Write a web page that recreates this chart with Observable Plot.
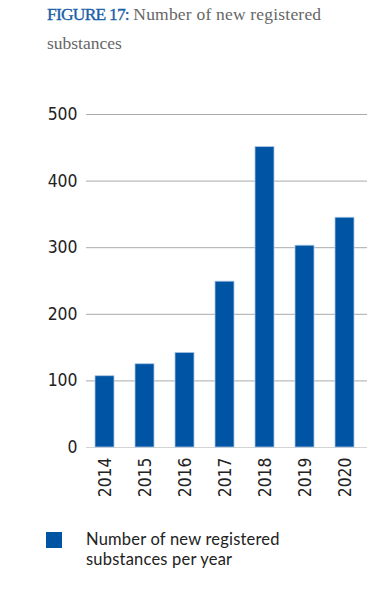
<!DOCTYPE html>
<html>
<head>
<meta charset="utf-8">
<script src="https://cdn.jsdelivr.net/npm/d3@7"></script>
<script src="https://cdn.jsdelivr.net/npm/@observablehq/plot@0.6"></script>
<style>
  html, body { margin: 0; padding: 0; background: #fff; width: 383px; height: 599px; overflow: hidden; }
  #title { position: absolute; left: 47px; top: 0px; width: 330px; font-family: "Liberation Serif", serif; font-size: 17.5px; line-height: 29px; color: #666; }
  #title b { color: #1a5ea8; font-weight: normal; letter-spacing: -0.8px; -webkit-text-stroke: 0.35px #1a5ea8; }
  #title .t1 { letter-spacing: 0.2px; }
  #chart { position: absolute; left: 0; top: 95px; }
  #legend { position: absolute; left: 46px; top: 529px; font-family: Lato, "Noto Sans", sans-serif; font-size: 16.5px; line-height: 20px; color: #222; }
  #legend .sw { position: absolute; left: 0; top: 3px; width: 16px; height: 16px; background: #0054a4; }
  #legend .tx { position: absolute; left: 40px; top: 0; width: 270px; letter-spacing: 0.2px; }
  #chart svg text { font-family: "DejaVu Sans Condensed", "DejaVu Sans", sans-serif; font-stretch: condensed; }
</style>
</head>
<body>
<div id="title"><b>FIGURE 17:</b> <span class="t1">Number of new registered</span><br>substances</div>
<div id="chart"></div>
<div id="legend"><div class="sw"></div><div class="tx">Number of new registered<br>substances per year</div></div>
<script>
const years = ["2014", "2015", "2016", "2017", "2018", "2019", "2020"];
const counts = [107, 125, 142, 249, 451, 303, 345];
const yTicks = [0, 100, 200, 300, 400, 500];
const seriesName = "Number of new registered substances per year";

const data = years.map((y, i) => ({year: y, count: counts[i]}));

const chart = Plot.plot({
  width: 383,
  height: 412,
  marginLeft: 86,
  marginRight: 16,
  marginTop: 19,
  marginBottom: 60,
  style: {fontFamily: "'DejaVu Sans Condensed', 'DejaVu Sans', sans-serif", fontSize: "17.4px", color: "#222", background: "#fff"},
  x: {domain: years, range: [85, 365], paddingInner: 0.52, paddingOuter: 0.25, label: null},
  y: {domain: [0, 500], label: null},
  marks: [
    Plot.ruleY(yTicks.filter(d => d > 0), {stroke: "#aaa", strokeWidth: 1}),
    Plot.ruleY([0], {stroke: "#d4d4d4", strokeWidth: 1}),
    Plot.barY(data, {x: "year", y: "count", fill: "#0054a4", stroke: "#a9c6e4", strokeWidth: 0.8, title: d => `${seriesName}: ${d.count}`}),
    Plot.axisY({ticks: yTicks, tickSize: 0, tickPadding: 9, label: null, fill: "#222", fontSize: 17.4}),
    Plot.axisX({tickSize: 0, tickRotate: -90, tickPadding: 10, label: null, fill: "#222", fontSize: 17.4})
  ]
});
document.getElementById("chart").appendChild(chart);
</script>
</body>
</html>
